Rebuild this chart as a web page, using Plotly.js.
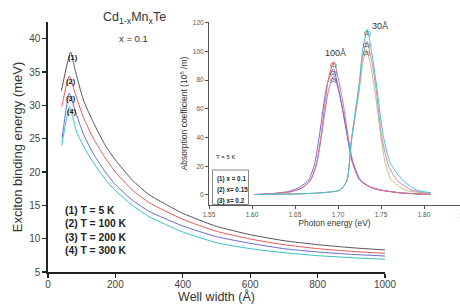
<!DOCTYPE html>
<html><head><meta charset="utf-8">
<script src="https://cdn.plot.ly/plotly-3.0.1.min.js"></script>
<style>html,body{margin:0;padding:0;background:#fff}#chart{width:460px;height:304px}</style>
</head><body><div id="chart"></div>
<script>
// ---- Main chart: exciton binding energy (meV) vs well width (Å), Cd1-xMnxTe, x = 0.1
const seriesNames = ['(1) T = 5 K', '(2) T = 100 K', '(3) T = 200 K', '(4) T = 300 K'];
const width1 = [40, 67, 80, 105, 135, 170, 200, 250, 300, 400, 500, 600, 700, 800, 900, 1000];
const energy1 = [32.2, 38.0, 35.4, 30.8, 27.4, 24.0, 21.8, 18.8, 16.6, 13.8, 11.85, 10.6, 9.7, 9.1, 8.65, 8.3];
const width2 = [41, 63, 80, 105, 135, 170, 200, 250, 300, 400, 500, 600, 700, 800, 900, 1000];
const energy2 = [29.8, 34.4, 31.9, 28.2, 25.0, 22.1, 20.0, 17.3, 15.4, 12.9, 11.1, 9.95, 9.1, 8.5, 8.1, 7.8];
const width3 = [42, 63, 80, 105, 135, 170, 200, 250, 300, 400, 500, 600, 700, 800, 900, 1000];
const energy3 = [25.1, 31.8, 29.3, 25.7, 22.7, 20.0, 18.1, 15.8, 14.1, 11.9, 10.3, 9.3, 8.5, 8.0, 7.65, 7.4];
const width4 = [41, 64, 85, 115, 145, 175, 200, 250, 300, 400, 500, 600, 700, 800, 900, 1000];
const energy4 = [24.0, 29.8, 26.0, 23.0, 20.6, 18.6, 17.2, 15.0, 13.3, 11.0, 9.4, 8.5, 7.9, 7.45, 7.15, 6.9];
const mainLabels = ['(1)', '(2)', '(3)', '(4)'];
const mainXTicks = [0, 200, 400, 600, 800, 1000];
const mainYTicks = [5, 10, 15, 20, 25, 30, 35, 40];

// ---- Inset: absorption coefficient (10^5 /m) vs photon energy (eV), T = 5 K
const insetLegend = ['(1) x = 0.1', '(2) x= 0.15', '(3) x= 0.2'];
// 100 Å well
const e100x1 = [1.603,1.623,1.645,1.658,1.668,1.675,1.680,1.6886,1.695,1.7008,1.707,1.712,1.717,1.726,1.738,1.749,1.773,1.808];
const a100x1 = [0.3,0.8,2.3,5,10.5,22,40,80,93,80,60,40,24,10.5,5.5,3.5,1.5,0.3];
const e100x2 = [1.603,1.623,1.643,1.655,1.666,1.673,1.678,1.687,1.6945,1.700,1.706,1.711,1.716,1.725,1.738,1.749,1.773,1.808];
const a100x2 = [0.3,0.9,2.5,5.2,10.5,22,40,76,88,76,57,40,24,10.5,5.3,3.5,1.4,0.3];
const e100x3 = [1.603,1.623,1.645,1.658,1.668,1.675,1.680,1.689,1.695,1.701,1.707,1.712,1.717,1.726,1.738,1.749,1.773,1.808];
const a100x3 = [0.3,0.8,2.2,4.8,10,21,38,73,83,72,55,38,23,10.2,5.3,3.4,1.4,0.3];
// 30 Å well
const e30x1 = [1.603,1.643,1.673,1.693,1.703,1.7105,1.7155,1.721,1.725,1.7284,1.734,1.739,1.744,1.753,1.761,1.775,1.791,1.808];
const a30x1 = [0.3,0.6,1.2,2.2,3.5,10.5,38,62,80,100,115.5,100,80,40,22,10.5,3.5,1.5];
const e30x2 = [1.603,1.643,1.673,1.693,1.703,1.7105,1.7155,1.721,1.725,1.7284,1.7335,1.739,1.744,1.751,1.759,1.769,1.785,1.808];
const a30x2 = [0.3,0.6,1.2,2.2,3.5,10,37,60,77,95,107,94,75,40,20,10,3.5,1];
const e30x3 = [1.603,1.643,1.673,1.693,1.703,1.7105,1.7155,1.721,1.725,1.7284,1.733,1.738,1.743,1.750,1.755,1.762,1.778,1.808];
const a30x3 = [0.3,0.6,1.2,2.2,3.5,10,37,58,74,90,101.5,90,72,40,22,10.5,3.5,0.8];
const insetXTicks = [1.55, 1.60, 1.65, 1.70, 1.75, 1.80];
const insetXTickText = ['1.55', '1.60', '1.65', '1.70', '1.75', '1.80'];
const insetYTicks = [0, 20, 40, 60, 80, 100, 120];

const W = 460, H = 304;
const px = v => v / W, py = v => 1 - v / H;
const FONT = 'Liberation Sans, Arial, Helvetica, sans-serif';

const mainColors = ['#555555', '#e8585c', '#6a6ad2', '#35c2c6'];
const mainX = [width1, width2, width3, width4];
const mainY = [energy1, energy2, energy3, energy4];

const traces = [];
mainX.forEach((xs, i) => {
  traces.push({x: xs, y: mainY[i], type: 'scatter', mode: 'lines', name: seriesNames[i],
    line: {color: mainColors[i], width: 1, shape: 'spline', smoothing: 0.5}, xaxis: 'x', yaxis: 'y', hoverinfo: 'skip'});
});

const insetSeries = [
  {x: e100x3, y: a100x3, c: '#a877c4', lab: '(3)'},
  {x: e100x2, y: a100x2, c: '#6c6cd6', lab: '(2)'},
  {x: e100x1, y: a100x1, c: '#ea6f7a', lab: '(1)'},
  {x: e30x3, y: a30x3, c: '#bcc27e', lab: '(3)'},
  {x: e30x2, y: a30x2, c: '#e57bb8', lab: '(2)'},
  {x: e30x1, y: a30x1, c: '#3fc6d6', lab: '(1)'}
];
insetSeries.forEach(s => {
  traces.push({x: s.x, y: s.y, type: 'scatter', mode: 'lines', line: {color: s.c, width: 1, shape: 'spline', smoothing: 0.6},
    xaxis: 'x2', yaxis: 'y2', hoverinfo: 'skip'});
});

const annotations = [];
// main peak labels, placed at each series' maximum
mainY.forEach((ys, i) => {
  const k = ys.indexOf(Math.max(...ys));
  annotations.push({xref: 'x', yref: 'y', x: mainX[i][k], y: ys[k], text: mainLabels[i], showarrow: false,
    yanchor: 'middle', yshift: -5, xshift: 2, font: {family: FONT, size: 7.5, color: '#222', weight: 'bold'}});
});
// inset peak labels
insetSeries.forEach(s => {
  const k = s.y.indexOf(Math.max(...s.y));
  annotations.push({xref: 'x2', yref: 'y2', x: s.x[k], y: s.y[k], text: s.lab, showarrow: false,
    yanchor: 'middle', yshift: -4, font: {family: FONT, size: 5.5, color: '#333'}});
});
// well-width labels at inset peaks
(function () {
  const s100 = insetSeries[2], s30 = insetSeries[5];
  const k1 = s100.y.indexOf(Math.max(...s100.y)), k2 = s30.y.indexOf(Math.max(...s30.y));
  annotations.push({xref: 'x2', yref: 'y2', x: s100.x[k1], y: s100.y[k1], text: '100Å', showarrow: false,
    yanchor: 'bottom', yshift: 1, xshift: 2, font: {family: FONT, size: 9, color: '#333'}});
  annotations.push({xref: 'x2', yref: 'y2', x: s30.x[k2], y: s30.y[k2], text: '30Å', showarrow: false,
    xanchor: 'left', yanchor: 'middle', xshift: 3, yshift: 3, font: {family: FONT, size: 9, color: '#333'}});
})();
// title texts
annotations.push({xref: 'paper', yref: 'paper', x: px(134), y: py(18), text: 'Cd<sub>1-x</sub>Mn<sub>x</sub>Te', showarrow: false,
  xanchor: 'center', yanchor: 'middle', font: {family: FONT, size: 12.5, color: '#333'}});
annotations.push({xref: 'paper', yref: 'paper', x: px(133), y: py(38), text: 'x = 0.1', showarrow: false,
  xanchor: 'center', yanchor: 'middle', font: {family: FONT, size: 9.5, color: '#333'}});
// main legend text
annotations.push({xref: 'paper', yref: 'paper', x: px(63), y: py(203), text: seriesNames.join('<br>'), showarrow: false,
  xanchor: 'left', yanchor: 'top', align: 'left', font: {family: FONT, size: 10.3, color: '#222', weight: 'bold'}});
// inset texts
annotations.push({xref: 'paper', yref: 'paper', x: px(214), y: py(157), text: 'T = 5 K', showarrow: false,
  xanchor: 'left', yanchor: 'middle', font: {family: FONT, size: 6, color: '#222'}});
insetLegend.forEach((t, i) => {
  annotations.push({xref: 'paper', yref: 'paper', x: px(215), y: py(179 + i * 11), text: t, showarrow: false,
    xanchor: 'left', yanchor: 'middle', font: {family: FONT, size: 6.3, color: '#222', weight: 'bold'}});
});
// partially visible last inset tick label (cut by the picture edge, as in the reference)
annotations.push({xref: 'paper', yref: 'paper', x: px(466), y: py(215), text: '1.85', showarrow: false,
  xanchor: 'center', yanchor: 'middle', font: {family: FONT, size: 7, color: '#555'}});

const shapes = [
  {type: 'rect', xref: 'paper', yref: 'paper', x0: px(212.5), x1: px(248.5), y0: py(204.5), y1: py(170),
    line: {color: '#888', width: 1}, fillcolor: 'rgba(255,255,255,0)'}
];

const axMain = {showgrid: false, zeroline: false, showline: true, linecolor: '#222', linewidth: 1.6,
  ticks: 'outside', ticklen: 4, tickwidth: 1.3, tickcolor: '#222', tickfont: {family: FONT, size: 10, color: '#444'}};
const axInset = {showgrid: false, zeroline: false, showline: true, linecolor: '#555', linewidth: 1,
  ticks: 'outside', ticklen: 3, tickwidth: 1, tickcolor: '#555', tickfont: {family: FONT, size: 6.5, color: '#555'}};

const layout = {
  width: W, height: H, margin: {l: 0, r: 0, t: 0, b: 0}, paper_bgcolor: '#fff', plot_bgcolor: 'rgba(0,0,0,0)',
  showlegend: false, font: {family: FONT, color: '#333'},
  xaxis: Object.assign({}, axMain, {domain: [px(48), px(385)], range: [0, 1000], anchor: 'y', tickvals: mainXTicks,
    ticklabelstandoff: -2,
    title: {text: 'Well width (Å)', font: {family: FONT, size: 12.5, color: '#333'}, standoff: 1}}),
  yaxis: Object.assign({}, axMain, {domain: [1 - 272 / H, 1 - 22 / H], range: [5, 42.5], anchor: 'x', tickvals: mainYTicks,
    title: {text: 'Exciton binding energy (meV)', font: {family: FONT, size: 13, color: '#333'}, standoff: 4}}),
  xaxis2: Object.assign({}, axInset, {domain: [px(209), 1], range: [1.55, 1.55 + 251 / 860], anchor: 'y2',
    tickvals: insetXTicks, ticktext: insetXTickText,
    title: {text: 'Photon energy (eV)', font: {family: FONT, size: 8.3, color: '#333'}, standoff: 3}}),
  yaxis2: Object.assign({}, axInset, {domain: [1 - 205 / H, 1 - 22 / H], range: [-7, 120.5], anchor: 'x2', tickvals: insetYTicks,
    title: {text: 'Absorption coefficient (10<sup>5</sup> /m)', font: {family: FONT, size: 8.5, color: '#333'}, standoff: 3}}),
  annotations: annotations, shapes: shapes
};

Plotly.newPlot('chart', traces, layout, {displayModeBar: false, staticPlot: true});
</script>
</body></html>
